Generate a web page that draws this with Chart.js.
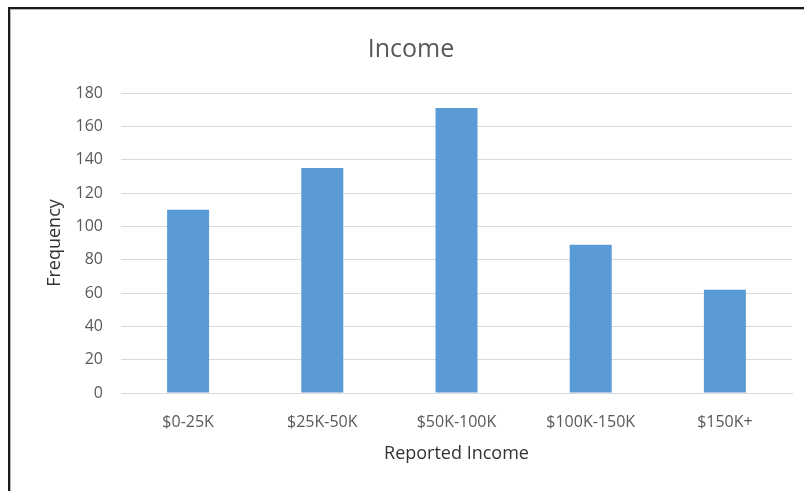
<!DOCTYPE html>
<html>
<head>
<meta charset="utf-8">
<title>Income</title>
<script src="https://cdn.jsdelivr.net/npm/chart.js@4/dist/chart.umd.min.js"></script>
<style>
  html, body { margin: 0; padding: 0; background: #fff; overflow: hidden; }
  #wrap { position: relative; width: 804px; height: 491px; }
  #incomeChart { position: absolute; left: 0; top: 0; }
  /* dark frame on the left and top edges */
  #frame {
    position: absolute; left: 8px; top: 7px; right: -10px; bottom: -10px;
    border-left: 2px solid #1a1a1a; border-top: 2px solid #1a1a1a;
    box-shadow: inset 1px 1px 0 #b4b4b4;
    pointer-events: none;
  }
</style>
</head>
<body>
<div id="wrap">
  <canvas id="incomeChart" width="804" height="491"></canvas>
  <div id="frame"></div>
</div>
<script>
const categories = ["$0-25K", "$25K-50K", "$50K-100K", "$100K-150K", "$150K+"];
const frequency = [110, 135, 171, 89, 62];
const yMax = 180;
const yStep = 20;

Chart.defaults.font.family = "'Open Sans', sans-serif";
Chart.defaults.color = "#595959";

const ctx = document.getElementById("incomeChart");

new Chart(ctx, {
    type: "bar",
    data: {
        labels: categories,
        datasets: [{
            label: "Frequency",
            data: frequency,
            yAxisID: "y",
            backgroundColor: "#5B9BD5",
            borderWidth: 0,
            categoryPercentage: 1,
            barPercentage: 0.313
        }]
    },
    options: {
        responsive: false,
        animation: false,
        devicePixelRatio: 1,
        layout: { padding: { left: 18, right: 0, top: 0, bottom: 0 } },
        plugins: {
            legend: { display: false },
            tooltip: { enabled: false },
            title: {
                display: true,
                text: "Income",
                color: "#595959",
                font: { size: 25, weight: "normal" },
                padding: { top: 35, bottom: 28 }
            }
        },
        scales: {
            x: {
                grid: { display: false },
                border: { display: true, color: "#D9D9D9", width: 1 },
                ticks: { color: "#595959", font: { size: 16 }, padding: 12 },
                title: {
                    display: true,
                    text: "Reported Income",
                    color: "#333333",
                    font: { size: 18 },
                    padding: { top: 0, bottom: 26 }
                },
                afterFit: scale => { scale.height = 98; }
            },
            y: {
                position: "left",
                min: 0,
                max: yMax,
                grid: { color: "#D9D9D9", drawTicks: false, lineWidth: 1 },
                border: { display: false },
                ticks: { stepSize: yStep, color: "#595959", font: { size: 16 }, padding: 18 },
                title: {
                    display: true,
                    text: "Frequency",
                    color: "#333333",
                    font: { size: 18 },
                    padding: { top: 26, bottom: 0 }
                },
                afterFit: scale => { scale.width = 103; }
            },
            // empty strip on the right so the plot stops short of the edge
            yRight: {
                position: "right",
                min: 0,
                max: yMax,
                grid: { display: false },
                border: { display: false },
                ticks: { display: false },
                afterFit: scale => { scale.width = 12; }
            }
        }
    }
});
</script>
</body>
</html>
